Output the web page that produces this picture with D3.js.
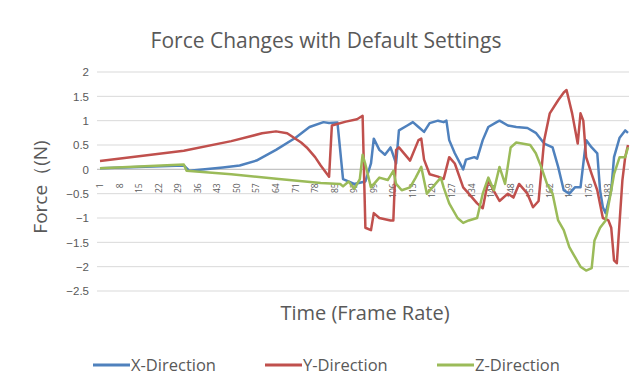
<!DOCTYPE html>
<html>
<head>
<meta charset="utf-8">
<script src="https://cdn.jsdelivr.net/npm/d3@7"></script>
<style>
  html, body { margin: 0; padding: 0; background: #fff; }
  svg { display: block; font-family: "Open Sans", "Noto Sans", sans-serif; }
</style>
</head>
<body>
<svg id="chart" width="633" height="376"></svg>
<script>
// Frame numbers and force readings (N) for each direction
const framesX = [1, 31, 33, 45, 51, 57, 64, 71, 76, 81, 83, 86, 88, 92, 96, 98, 99, 101, 103, 105, 107, 108, 111, 113, 115, 117, 119, 122, 124, 125, 126, 128, 131, 132, 135, 136, 138, 140, 143, 144, 147, 150, 154, 157, 160, 163, 165, 167, 169, 171, 173, 175, 177, 179, 180, 181, 182, 184, 185, 187, 189, 190];
const forceX  = [0.02, 0.08, -0.03, 0.04, 0.08, 0.18, 0.4, 0.65, 0.87, 0.97, 0.95, 0.96, -0.2, -0.3, -0.25, 0.12, 0.63, 0.4, 0.3, 0.45, 0.12, 0.8, 0.9, 0.97, 0.87, 0.77, 0.95, 1.0, 0.97, 1.0, 0.6, 0.33, 0.0, 0.2, 0.25, 0.22, 0.6, 0.87, 0.97, 1.0, 0.9, 0.87, 0.85, 0.75, 0.53, 0.45, 0.05, -0.43, -0.5, -0.37, -0.37, 0.6, 0.45, 0.33, -0.43, -0.78, -0.9, -0.43, 0.25, 0.65, 0.8, 0.75];

const framesY = [1, 31, 48, 59, 64, 68, 73, 75, 78, 80, 83, 84, 89, 93, 95, 96, 98, 99, 101, 105, 106, 107, 108, 112, 115, 116, 117, 119, 122, 124, 126, 128, 131, 133, 136, 138, 140, 142, 144, 147, 149, 151, 154, 156, 158, 160, 162, 165, 167, 168, 170, 172, 173, 174, 175, 177, 179, 181, 183, 184, 185, 186, 188, 189, 190];
const forceY  = [0.17, 0.38, 0.58, 0.74, 0.78, 0.74, 0.55, 0.45, 0.25, 0.08, -0.15, 0.9, 0.98, 1.03, 1.1, -1.2, -1.25, -0.9, -1.0, -1.05, -1.05, 0.4, 0.45, 0.18, 0.6, 0.63, 0.2, -0.1, -0.15, -0.2, 0.25, 0.12, -0.37, -0.5, -0.7, -0.8, -0.22, -0.45, -0.65, -0.5, -0.58, -0.3, -0.5, -0.78, -0.65, 0.6, 1.15, 1.42, 1.58, 1.63, 1.15, 0.53, 1.15, 1.0, 0.25, -0.1, -0.43, -1.0, -1.05, -1.2, -1.87, -1.93, -0.22, 0.25, 0.5];

const framesZ = [1, 31, 32, 48, 65, 80, 87, 88, 90, 92, 94, 95, 96, 98, 101, 104, 106, 107, 109, 112, 114, 116, 118, 120, 123, 124, 126, 129, 131, 133, 136, 138, 140, 142, 144, 146, 148, 150, 152, 155, 157, 159, 161, 163, 165, 167, 169, 171, 173, 175, 177, 178, 180, 182, 184, 185, 187, 189, 190];
const forceZ  = [0.02, 0.1, -0.03, -0.1, -0.2, -0.28, -0.3, -0.35, -0.25, -0.4, -0.2, 0.3, 0.1, -0.37, -0.17, -0.22, -0.03, -0.3, -0.43, -0.37, -0.17, 0.05, -0.5, -0.37, -0.17, -0.37, -0.7, -1.0, -1.1, -1.05, -1.0, -0.5, -0.17, -0.43, 0.05, -0.3, 0.45, 0.55, 0.53, 0.5, 0.33, 0.04, -0.3, -0.5, -1.05, -1.25, -1.6, -1.8, -2.0, -2.08, -2.03, -1.46, -1.2, -1.05, -0.43, -0.1, 0.25, 0.25, 0.45];

const frameTicks = d3.range(1, 190, 7);           // 1, 8, 15, ... 183
const forceTicks = [2, 1.5, 1, 0.5, 0, -0.5, -1, -1.5, -2, -2.5];

const seriesNames  = ["X-Direction", "Y-Direction", "Z-Direction"];
const seriesColors = ["#4F81BD", "#C0504D", "#9BBB59"];

const svg = d3.select("#chart");
const textColor = "#595959";

const x = d3.scaleLinear().domain([1, 190]).range([100, 628]);
const y = d3.scaleLinear().domain([-2.5, 2]).range([291, 72]);

// Horizontal gridlines
svg.append("g")
  .selectAll("line")
  .data(forceTicks)
  .join("line")
  .attr("x1", 97).attr("x2", 629)
  .attr("y1", d => y(d)).attr("y2", d => y(d))
  .attr("stroke", "#D9D9D9").attr("stroke-width", 1);

// Value axis labels
const yAxis = d3.axisLeft(y).tickValues(forceTicks).tickSize(0).tickPadding(0)
  .tickFormat(d => d3.format("")(d));
svg.append("g")
  .attr("transform", "translate(89,0)")
  .call(yAxis)
  .call(g => g.select(".domain").remove())
  .call(g => g.selectAll("text")
    .attr("fill", textColor).attr("font-size", 11.5));

// Category axis at zero
svg.append("line")
  .attr("x1", 97).attr("x2", 629)
  .attr("y1", y(0)).attr("y2", y(0))
  .attr("stroke", "#BFBFBF").attr("stroke-width", 1);

svg.append("g")
  .selectAll("text")
  .data(frameTicks)
  .join("text")
  .attr("transform", d => `translate(${x(d) + 3},${y(0) + 14}) rotate(-90)`)
  .attr("text-anchor", "end")
  .attr("fill", textColor)
  .attr("font-size", 8.5)
  .text(d => d);

// Series lines, drawn in legend order so Z sits on top
const line = d3.line().x(d => x(d[0])).y(d => y(d[1]));
const series = [
  d3.zip(framesX, forceX),
  d3.zip(framesY, forceY),
  d3.zip(framesZ, forceZ)
];
series.forEach((pts, i) => {
  svg.append("path")
    .datum(pts)
    .attr("fill", "none")
    .attr("stroke", seriesColors[i])
    .attr("stroke-width", 2.5)
    .attr("stroke-linejoin", "round")
    .attr("d", line);
});

// Titles
svg.append("text")
  .attr("x", 326).attr("y", 48)
  .attr("text-anchor", "middle")
  .attr("fill", textColor)
  .attr("font-size", 21)
  .text("Force Changes with Default Settings");

svg.append("text")
  .attr("x", 365).attr("y", 320)
  .attr("text-anchor", "middle")
  .attr("fill", textColor)
  .attr("font-size", 20)
  .text("Time (Frame Rate)");

svg.append("text")
  .attr("transform", "translate(47,187) rotate(-90)")
  .attr("text-anchor", "middle")
  .attr("fill", textColor)
  .attr("font-size", 19)
  .text("Force（(N)");

// Legend
const legendX = [93, 265, 437];
const legend = svg.append("g");
seriesNames.forEach((name, i) => {
  legend.append("line")
    .attr("x1", legendX[i]).attr("x2", legendX[i] + 37)
    .attr("y1", 365).attr("y2", 365)
    .attr("stroke", seriesColors[i]).attr("stroke-width", 3);
  legend.append("text")
    .attr("x", legendX[i] + 38).attr("y", 371)
    .attr("fill", textColor)
    .attr("font-size", 16.5)
    .text(name);
});
</script>
</body>
</html>
